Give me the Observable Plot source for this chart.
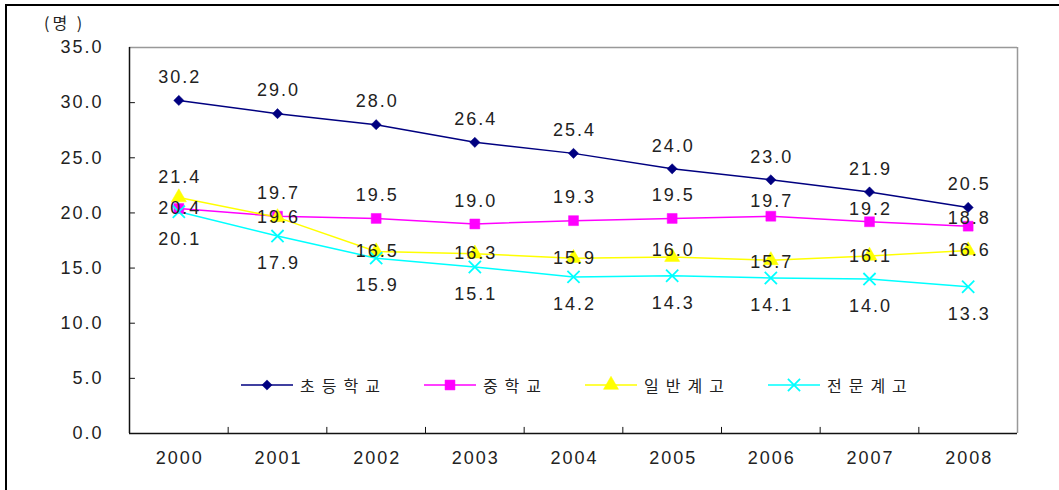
<!DOCTYPE html>
<html><head><meta charset="utf-8">
<script src="https://cdn.jsdelivr.net/npm/d3@7"></script>
<script src="https://cdn.jsdelivr.net/npm/@observablehq/plot@0.6"></script>
<style>
body{margin:0;background:#fff;overflow:hidden;}
#wrap{position:relative;width:1059px;height:490px;font-family:"Liberation Sans",sans-serif;}
#border{position:absolute;left:5px;top:4px;width:1100px;height:600px;border:2px solid #000;box-sizing:border-box;}
#unit{position:absolute;left:44px;top:10px;font-family:"Noto Sans CJK KR";font-size:16px;color:#222;letter-spacing:3px;}
#legend{position:absolute;top:373px;left:240px;display:flex;font-family:"Noto Sans CJK KR";font-size:16px;color:#222;}
.item{display:flex;align-items:center;margin-right:36px;}
.item span{letter-spacing:7px;margin-left:6px;}
#chart{position:absolute;left:0;top:0;}
#chart svg text{letter-spacing:2px;}
</style></head>
<body><div id="wrap"><div id="border"></div><div id="chart"></div><div id="unit">(명 )</div><div id="legend"></div></div>
<script>
const years = [2000, 2001, 2002, 2003, 2004, 2005, 2006, 2007, 2008];
const seriesNames = ["초등학교", "중학교", "일반계고", "전문계고"];
const elementary = [30.2, 29.0, 28.0, 26.4, 25.4, 24.0, 23.0, 21.9, 20.5];
const middle = [20.4, 19.7, 19.5, 19.0, 19.3, 19.5, 19.7, 19.2, 18.8];
const general = [21.4, 19.6, 16.5, 16.3, 15.9, 16.0, 15.7, 16.1, 16.6];
const vocational = [20.1, 17.9, 15.9, 15.1, 14.2, 14.3, 14.1, 14.0, 13.3];
const yTicks = [0, 5, 10, 15, 20, 25, 30, 35];

const colors = ["#000080", "#FF00FF", "#FFFF00", "#00FFFF"];
const symbols = ["diamond2", "square", "triangle", "times"];
const radii = [4.6, 5.6, 5.6, 5.6];
const allVals = [elementary, middle, general, vocational];
const data = [];
allVals.forEach((vals, s) => vals.forEach((v, i) => data.push({series: seriesNames[s], s, year: years[i], value: v})));

// label placement (px): default per series, with a few hand-placed exceptions as in the source
const baseDy = [-23, -23, 0, 27];
const dyExceptions = {"1-2000": 0, "1-2006": -15, "1-2007": -13, "1-2008": -8, "2-2000": -20, "2-2005": -7, "2-2006": 2};
function labelDy(d){
  const k = d.s + "-" + d.year;
  return k in dyExceptions ? dyExceptions[k] : baseDy[d.s];
}
const boundaries = years.slice(0, -1).map(y => y + 0.5);

const marks = [
  Plot.ruleY([35], {stroke: "#999", strokeWidth: 1.5}),
  Plot.ruleX([2008.5], {stroke: "#999", strokeWidth: 1.5}),
  Plot.ruleX([1999.5], {stroke: "#111", strokeWidth: 1.5}),
  Plot.ruleY([0], {stroke: "#111", strokeWidth: 1.5}),
  Plot.ruleX(boundaries, {x: d => d, y1: 0, y2: 0.55, stroke: "#111"}),
  Plot.ruleY(yTicks.slice(1, -1), {y: d => d, x1: 1999.5, x2: 1999.56, stroke: "#111"}),
  Plot.axisY(yTicks, {label: null, tickSize: 0, tickPadding: 26, tickFormat: d => d.toFixed(1), fontSize: 18, fill: "#222"}),
  Plot.axisX(years, {label: null, tickSize: 0, tickPadding: 18, dx: 1, tickFormat: d => String(d), fontSize: 18, fill: "#222"})
];
allVals.forEach((vals, s) => {
  const ds = data.filter(d => d.s === s);
  marks.push(Plot.line(ds, {x: "year", y: "value", stroke: colors[s], strokeWidth: 1.5}));
});
allVals.forEach((vals, s) => {
  const ds = data.filter(d => d.s === s);
  const isStroke = symbols[s] === "times";
  marks.push(Plot.dot(ds, {x: "year", y: "value", symbol: () => symbols[s], r: radii[s],
    fill: isStroke ? "none" : colors[s], stroke: colors[s], strokeWidth: isStroke ? 1.8 : 0.5}));
});
[0,1,2,3].forEach(s => {
  const ds = data.filter(d => d.s === s);
  [...new Set(ds.map(labelDy))].forEach(dy => {
    marks.push(Plot.text(ds.filter(d => labelDy(d) === dy), {x: "year", y: "value", text: d => d.value.toFixed(1), dy, dx: 1,
      fontSize: 18, fill: "#222"}));
  });
});

const chart = Plot.plot({
  width: 1059, height: 490,
  marginLeft: 129, marginRight: 42, marginTop: 47, marginBottom: 57,
  style: {background: "transparent", fontFamily: "Liberation Sans, sans-serif", overflow: "visible"},
  x: {domain: [1999.5, 2008.5], axis: null},
  y: {domain: [0, 35], axis: null},
  symbol: {type: "identity"},
  marks
});
document.getElementById("chart").appendChild(chart);

// legend
const leg = document.getElementById("legend");
seriesNames.forEach((name, s) => {
  const item = document.createElement("div");
  item.className = "item";
  const svg = d3.create("svg").attr("width", 54).attr("height", 20);
  svg.append("line").attr("x1", 1).attr("x2", 53).attr("y1", 10).attr("y2", 10).attr("stroke", colors[s]).attr("stroke-width", 1.5);
  const sym = {diamond2: d3.symbolDiamond2, square: d3.symbolSquare, triangle: d3.symbolTriangle, times: d3.symbolTimes}[symbols[s]];
  const isStroke = symbols[s] === "times";
  svg.append("path").attr("transform", "translate(27,10)").attr("d", d3.symbol(sym, Math.PI * radii[s] * radii[s])())
    .attr("fill", isStroke ? "none" : colors[s]).attr("stroke", colors[s]).attr("stroke-width", isStroke ? 1.8 : 0.5);
  item.appendChild(svg.node());
  const sp = document.createElement("span");
  sp.textContent = name;
  item.appendChild(sp);
  leg.appendChild(item);
});
</script></body></html>
